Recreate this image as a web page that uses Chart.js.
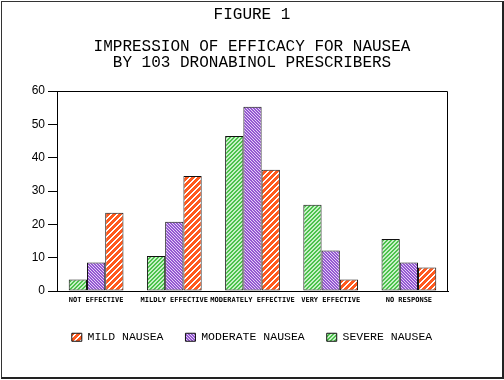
<!DOCTYPE html>
<html><head><meta charset="utf-8">
<script src="https://cdn.jsdelivr.net/npm/chart.js@4"></script>
<style>
html,body{margin:0;padding:0;background:#fff;}
#wrap{position:relative;width:504px;height:380px;}
#frame{position:absolute;left:1px;top:1px;width:500px;height:375px;border-left:1px solid #333;border-top:1px solid #333;border-right:2px solid #222;border-bottom:2px solid #222;pointer-events:none;}
</style></head><body>
<div id="wrap"><canvas id="c"></canvas><div id="frame"></div></div>
<script>
const categories = ['NOT EFFECTIVE', 'MILDLY EFFECTIVE', 'MODERATELY EFFECTIVE', 'VERY EFFECTIVE', 'NO RESPONSE'];
const severeNausea = [3.5, 10.5, 46.5, 25.9, 15.6];
const moderateNausea = [8.6, 20.8, 55.3, 12.2, 8.6];
const mildNausea = [23.5, 34.5, 36.4, 3.5, 7.1];
const yTicks = [0, 10, 20, 30, 40, 50, 60];
const titleLines = ['FIGURE 1', '', 'IMPRESSION OF EFFICACY FOR NAUSEA', 'BY 103 DRONABINOL PRESCRIBERS'];
const seriesNames = ['SEVERE NAUSEA', 'MODERATE NAUSEA', 'MILD NAUSEA'];

function stripes(base, light, period, width, dir) {
  const c = document.createElement('canvas');
  c.width = period; c.height = period;
  const x = c.getContext('2d');
  x.fillStyle = base; x.fillRect(0, 0, period, period);
  x.fillStyle = light;
  for (let i = 0; i < period; i++) for (let j = 0; j < period; j++) {
    const k = dir > 0 ? (i + j) % period : ((i - j) % period + period) % period;
    if (k < width) x.fillRect(i, j, 1, 1);
  }
  return x.createPattern(c, 'repeat');
}
const greenPat = stripes('#4cc24c', '#c8f0c8', 4, 2, 1);
const purplePat = stripes('#9558d2', '#e4d4f5', 3, 1, -1);
const orangePat = stripes('#ff5a1e', '#ffffff', 6, 2, 1);

const areaBorder = {
  id: 'areaBorder',
  afterDatasetsDraw(chart) {
    const a = chart.chartArea, ctx = chart.ctx;
    ctx.save();
    ctx.strokeStyle = '#000'; ctx.lineWidth = 1;
    ctx.beginPath();
    ctx.moveTo(Math.round(a.left) + 0.5, Math.round(a.top) + 0.5);
    ctx.lineTo(Math.round(a.right) - 0.5, Math.round(a.top) + 0.5);
    ctx.lineTo(Math.round(a.right) - 0.5, Math.round(a.bottom));
    ctx.stroke();
    ctx.restore();
  }
};

new Chart(document.getElementById('c'), {
  type: 'bar',
  data: {
    labels: categories,
    datasets: [
      { label: seriesNames[0], data: severeNausea, backgroundColor: greenPat, borderColor: '#111', borderWidth: 1 },
      { label: seriesNames[1], data: moderateNausea, backgroundColor: purplePat, borderColor: '#111', borderWidth: 1 },
      { label: seriesNames[2], data: mildNausea, backgroundColor: orangePat, borderColor: '#111', borderWidth: 1 }
    ]
  },
  options: {
    responsive: true, maintainAspectRatio: false, animation: false,
    layout: { padding: { left: 0, right: 0, top: 0, bottom: 27 } },
    datasets: { bar: { categoryPercentage: 0.70, barPercentage: 1.0, borderSkipped: false } },
    scales: {
      x: {
        offset: true,
        grid: { drawOnChartArea: false, drawTicks: false },
        border: { color: '#000', width: 1 },
        ticks: { autoSkip: false, maxRotation: 0, minRotation: 0, padding: 5, color: '#000',
          font: { family: 'DejaVu Sans Mono', size: 7, weight: 'bold' } }
      },
      y: {
        min: 0, max: 60,
        afterFit(s) { s.width = 57; },
        afterBuildTicks(s) { s.ticks = yTicks.map(v => ({ value: v })); },
        grid: { drawOnChartArea: false, drawTicks: true, tickLength: 9, color: '#000' },
        border: { color: '#000', width: 1 },
        ticks: { padding: 3, color: '#000', font: { family: 'Liberation Sans', size: 12 } }
      },
      y2: {
        position: 'right', display: true,
        afterFit(s) { s.width = 56; },
        grid: { display: false, drawTicks: false },
        border: { display: false },
        ticks: { display: false }
      }
    },
    plugins: {
      title: { display: true, text: titleLines, color: '#000',
        font: { family: 'Liberation Mono', size: 16, weight: 'normal', lineHeight: 1 },
        padding: { top: 7, bottom: 20 } },
      legend: { position: 'bottom', reverse: true,
        labels: { boxWidth: 10, boxHeight: 8, padding: 22, color: '#000',
          font: { family: 'Liberation Mono', size: 11.5 } } },
      tooltip: { enabled: false }
    }
  },
  plugins: [areaBorder]
});
</script>
</body></html>
